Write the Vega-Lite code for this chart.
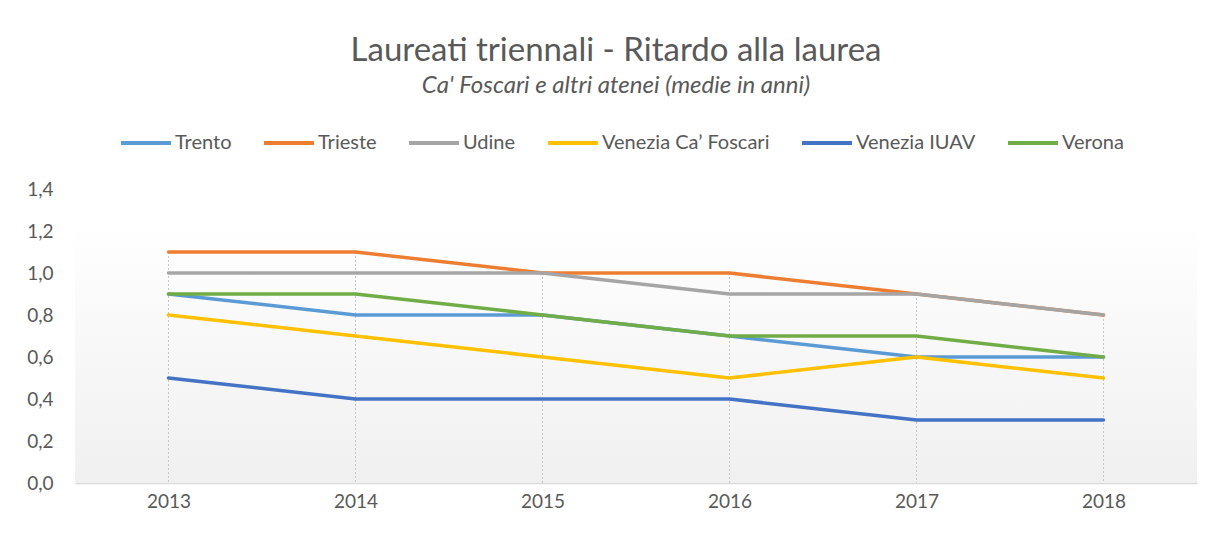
{
  "$schema": "https://vega.github.io/schema/vega-lite/v6.json",
  "autosize": {"type": "none"},
  "width": 1122,
  "height": 294,
  "padding": {"left": 75, "top": 189, "right": 14, "bottom": 53},
  "background": "#ffffff",
  "title": {
    "text": "Laureati triennali - Ritardo alla laurea",
    "subtitle": "Ca' Foscari e altri atenei (medie in anni)",
    "anchor": "middle",
    "frame": "group",
    "dx": -20,
    "offset": 18,
    "font": "Lato",
    "fontSize": 33,
    "fontWeight": "normal",
    "color": "#595959",
    "subtitleFont": "Lato",
    "subtitleFontSize": 24,
    "subtitleFontStyle": "italic",
    "subtitleColor": "#595959",
    "subtitlePadding": 6
  },
  "data": {
    "values": [
      {"year": "2013", "series": "Trento", "value": 0.9},
      {"year": "2014", "series": "Trento", "value": 0.8},
      {"year": "2015", "series": "Trento", "value": 0.8},
      {"year": "2016", "series": "Trento", "value": 0.7},
      {"year": "2017", "series": "Trento", "value": 0.6},
      {"year": "2018", "series": "Trento", "value": 0.6},
      {"year": "2013", "series": "Trieste", "value": 1.1},
      {"year": "2014", "series": "Trieste", "value": 1.1},
      {"year": "2015", "series": "Trieste", "value": 1.0},
      {"year": "2016", "series": "Trieste", "value": 1.0},
      {"year": "2017", "series": "Trieste", "value": 0.9},
      {"year": "2018", "series": "Trieste", "value": 0.8},
      {"year": "2013", "series": "Udine", "value": 1.0},
      {"year": "2014", "series": "Udine", "value": 1.0},
      {"year": "2015", "series": "Udine", "value": 1.0},
      {"year": "2016", "series": "Udine", "value": 0.9},
      {"year": "2017", "series": "Udine", "value": 0.9},
      {"year": "2018", "series": "Udine", "value": 0.8},
      {"year": "2013", "series": "Venezia Ca’ Foscari", "value": 0.8},
      {"year": "2014", "series": "Venezia Ca’ Foscari", "value": 0.7},
      {"year": "2015", "series": "Venezia Ca’ Foscari", "value": 0.6},
      {"year": "2016", "series": "Venezia Ca’ Foscari", "value": 0.5},
      {"year": "2017", "series": "Venezia Ca’ Foscari", "value": 0.6},
      {"year": "2018", "series": "Venezia Ca’ Foscari", "value": 0.5},
      {"year": "2013", "series": "Venezia IUAV", "value": 0.5},
      {"year": "2014", "series": "Venezia IUAV", "value": 0.4},
      {"year": "2015", "series": "Venezia IUAV", "value": 0.4},
      {"year": "2016", "series": "Venezia IUAV", "value": 0.4},
      {"year": "2017", "series": "Venezia IUAV", "value": 0.3},
      {"year": "2018", "series": "Venezia IUAV", "value": 0.3},
      {"year": "2013", "series": "Verona", "value": 0.9},
      {"year": "2014", "series": "Verona", "value": 0.9},
      {"year": "2015", "series": "Verona", "value": 0.8},
      {"year": "2016", "series": "Verona", "value": 0.7},
      {"year": "2017", "series": "Verona", "value": 0.7},
      {"year": "2018", "series": "Verona", "value": 0.6}
    ]
  },
  "layer": [
    {
      "data": {"values": [{}]},
      "mark": {
        "type": "rect",
        "fill": {
          "gradient": "linear",
          "x1": 0, "y1": 0, "x2": 0, "y2": 1,
          "stops": [
            {"offset": 0, "color": "#ffffff"},
            {"offset": 1, "color": "#f0f0f0"}
          ]
        }
      },
      "encoding": {
        "y": {"datum": 1.243, "type": "quantitative", "scale": {"domain": [0, 1.4], "nice": false}},
        "y2": {"datum": 0}
      }
    },
    {
      "transform": [
        {"aggregate": [{"op": "max", "field": "value", "as": "maxv"}], "groupby": ["year"]}
      ],
      "mark": {"type": "rule", "color": "#c6c6c6", "strokeWidth": 1, "strokeDash": [2, 2]},
      "encoding": {
        "x": {"field": "year", "type": "ordinal"},
        "y": {"field": "maxv", "type": "quantitative"},
        "y2": {"datum": 0}
      }
    },
    {
      "mark": {"type": "line", "strokeWidth": 3.5, "strokeCap": "round", "strokeJoin": "round"},
      "encoding": {
        "x": {
          "field": "year",
          "type": "ordinal",
          "scale": {"type": "point", "padding": 0.5},
          "axis": {
            "title": null,
            "labelAngle": 0,
            "labelAlign": "center",
            "labelFont": "Lato",
            "labelFontSize": 19,
            "labelColor": "#595959",
            "labelPadding": 18,
            "ticks": false,
            "grid": false,
            "domain": true,
            "domainColor": "#d9d9d9",
            "domainWidth": 1.5
          }
        },
        "y": {
          "field": "value",
          "type": "quantitative",
          "scale": {"domain": [0, 1.4], "nice": false},
          "axis": {
            "title": null,
            "values": [0, 0.2, 0.4, 0.6, 0.8, 1.0, 1.2, 1.4],
            "labelExpr": "replace(format(datum.value, '.1f'), '.', ',')",
            "labelFont": "Lato",
            "labelFontSize": 19,
            "labelColor": "#595959",
            "labelPadding": 22,
            "ticks": false,
            "domain": false,
            "grid": false
          }
        },
        "color": {
          "field": "series",
          "type": "nominal",
          "sort": null,
          "scale": {
            "domain": ["Trento", "Trieste", "Udine", "Venezia Ca’ Foscari", "Venezia IUAV", "Verona"],
            "range": ["#5b9bd5", "#ed7d31", "#a5a5a5", "#ffc000", "#4472c4", "#70ad47"]
          },
          "legend": {
            "title": null,
            "orient": "none",
            "direction": "horizontal",
            "legendX": 44,
            "legendY": -73,
            "symbolType": "stroke",
            "symbolSize": 2500,
            "symbolStrokeWidth": 4,
            "labelFont": "Lato",
            "labelFontSize": 20,
            "labelColor": "#595959",
            "labelOffset": 2,
            "labelLimit": 400,
            "columnPadding": 24
          }
        }
      }
    }
  ],
  "config": {
    "view": {"stroke": null}
  }
}
